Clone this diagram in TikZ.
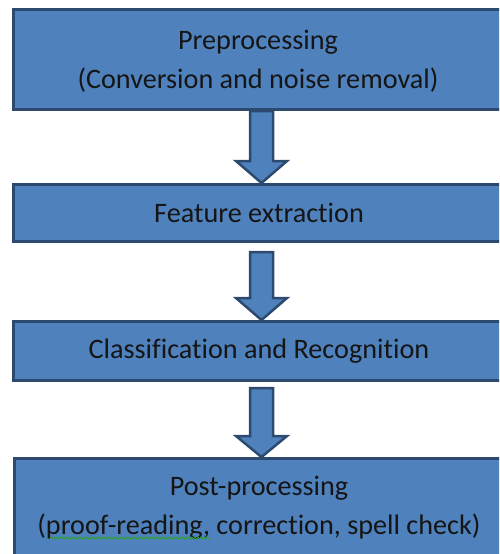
\documentclass[tikz,border=0pt]{standalone}
\usepackage{fontspec}
\setmainfont[Ligatures=NoCommon]{Carlito}
\usetikzlibrary{calc,backgrounds,decorations.pathmorphing}
\definecolor{boxfill}{HTML}{4F81BD}
\definecolor{boxline}{HTML}{2C4A70}
\definecolor{textcol}{HTML}{151515}
\definecolor{spellgreen}{HTML}{2EA02E}
\newcommand{\blockarrow}[3]{%
  \draw[barrow] let \p1=(#1), \p2=(#2) in
    (\x1-11.5pt,\y1) -- (\x1-11.5pt,\y2+#3) -- (\x1-25.5pt,\y2+#3) -- (\x1,\y2)
    -- (\x1+25.5pt,\y2+#3) -- (\x1+11.5pt,\y2+#3) -- (\x1+11.5pt,\y1) -- cycle;}
\begin{document}
\begin{tikzpicture}[x=1pt,y=-1pt,
  stage/.style={draw=boxline, fill=boxfill, line width=3pt, rectangle, inner sep=0pt,
    minimum width=491pt, font=\fontsize{28.2}{39}\selectfont, text=textcol, align=center},
  lbl/.style={font=\fontsize{28.2}{39}\selectfont, text=textcol, align=center, inner sep=0pt},
  barrow/.style={draw=boxline, fill=boxfill, line width=2.5pt, line join=miter}]
\useasboundingbox (0,0) rectangle (499,554);
\clip (0,0) rectangle (499,554);
\node[stage, minimum height=100pt] (pre) at (259,59.5) {};
\node[lbl] (pretext) at (258,61) {Preprocessing\\(Conversion and noise removal)};
\node[stage, minimum height=57pt] (feat) at (259,213) {Feature extraction};
\node[stage, minimum height=59pt] (cls) at (259,351) {Classification and Recognition};
\node[stage, minimum height=140pt] (post) at (260,528.5) {};
\node[lbl] (posttext) at (259,508) {Post-processing\\(proof-reading, correction, spell check)};
\draw[spellgreen, line width=0.8pt, decoration={snake, segment length=3pt, amplitude=1pt}, decorate]
  (50,538) -- (210,538);
\begin{scope}[on background layer]
\blockarrow{$(pre.south)+(2.5,0)$}{feat.north}{22pt}
\blockarrow{$(feat.south)+(2.5,9)$}{cls.north}{22pt}
\blockarrow{$(cls.south)+(2.5,6)$}{post.north}{21pt}
\end{scope}
\end{tikzpicture}
\end{document}
